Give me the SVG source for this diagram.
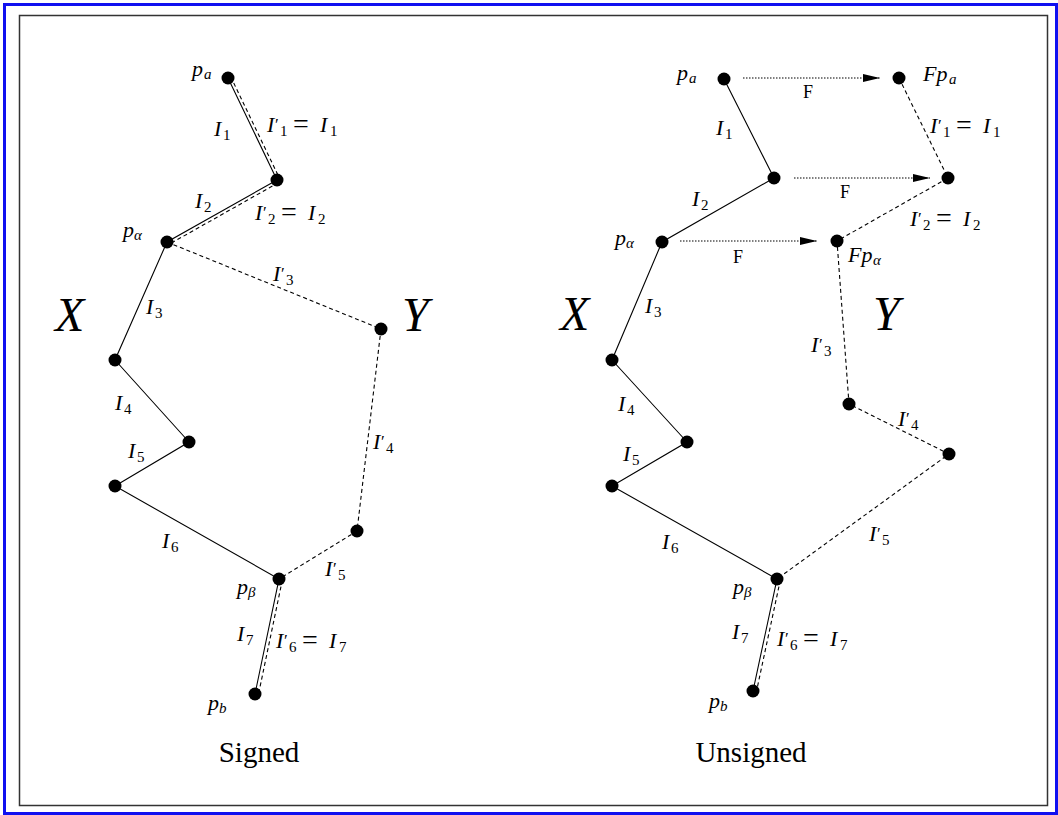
<svg xmlns="http://www.w3.org/2000/svg" width="1058" height="815" viewBox="0 0 1058 815">
<style>
.m{font-family:"Liberation Serif",serif;font-style:italic;font-size:22px;fill:#000}
.sb{font-size:15px;font-style:normal}
.sg{font-size:15px;font-style:italic}
.pr{font-size:17px;font-style:normal}
.eq{font-size:28px;font-style:normal}
.big{font-family:"Liberation Serif",serif;font-style:italic;font-size:48px;fill:#000}
.fl{font-family:"Liberation Serif",serif;font-size:18px;fill:#000}
.cap{font-family:"Liberation Serif",serif;font-size:29px;fill:#000;text-anchor:middle}
.dot{fill:#000}
.sol{fill:none;stroke:#000;stroke-width:1.1}
.dash{fill:none;stroke:#000;stroke-width:1.1;stroke-dasharray:4 3}
.dotl{fill:none;stroke:#000;stroke-width:1.1;stroke-dasharray:1.5 1.5}
</style>
<defs>
<marker id="ah" markerUnits="userSpaceOnUse" markerWidth="17" markerHeight="8" refX="17" refY="4" orient="auto"><path d="M0,0 L17,4 L0,8 z" fill="#000"/></marker>
</defs>
<rect x="4.5" y="4.5" width="1052" height="809" fill="#fff" stroke="#1010f0" stroke-width="3"/>
<rect x="19.5" y="15.5" width="1028" height="790" fill="none" stroke="#333" stroke-width="1.5"/>

<g id="connectors">
<polyline class="sol" points="228,78 277,180 167,242 115,360 189,442 115,486 279,579 255,694"/>
<line class="dash" x1="230.7" y1="76.7" x2="279.7" y2="178.7"/>
<line class="dash" x1="278.5" y1="182.6" x2="168.5" y2="244.6"/>
<polyline class="dash" points="167,242 381,329 357,531 279,579"/>
<line class="dash" x1="282.4" y1="579.7" x2="258.4" y2="694.7"/>
<polyline class="sol" points="724,79 774,178 662,242 612,360 687,442 612,486 777,579 753,691"/>
<polyline class="dash" points="899,78 948,178 837,241 849,404 949,454 777,579"/>
<line class="dash" x1="780.4" y1="579.7" x2="756.4" y2="691.7"/>
<line class="dotl" x1="743" y1="78" x2="880" y2="78" marker-end="url(#ah)"/>
<line class="dotl" x1="794" y1="178" x2="930" y2="178" marker-end="url(#ah)"/>
<line class="dotl" x1="680" y1="241" x2="817" y2="241" marker-end="url(#ah)"/>
</g>

<g id="L-pa"><circle class="dot" cx="228" cy="78" r="6.5"/><text class="m" x="192" y="76">p<tspan class="sg" x="204" y="79">a</tspan></text></g>
<g id="L-n2"><circle class="dot" cx="277" cy="180" r="6.5"/></g>
<g id="L-palpha"><circle class="dot" cx="167" cy="242" r="6.5"/><text class="m" x="123" y="237">p<tspan class="sg" x="134" y="240">α</tspan></text></g>
<g id="L-n3"><circle class="dot" cx="115" cy="360" r="6.5"/></g>
<g id="L-n4"><circle class="dot" cx="189" cy="442" r="6.5"/></g>
<g id="L-n5"><circle class="dot" cx="115" cy="486" r="6.5"/></g>
<g id="L-pbeta"><circle class="dot" cx="279" cy="579" r="6.5"/><text class="m" x="237" y="594">p<tspan class="sg" x="248" y="597">β</tspan></text></g>
<g id="L-pb"><circle class="dot" cx="255" cy="694" r="6.5"/><text class="m" x="208" y="710">p<tspan class="sg" x="219" y="713">b</tspan></text></g>
<g id="L-y1"><circle class="dot" cx="381" cy="329" r="6.5"/></g>
<g id="L-y2"><circle class="dot" cx="357" cy="531" r="6.5"/></g>

<g id="R-pa"><circle class="dot" cx="724" cy="79" r="6.5"/><text class="m" x="677" y="80">p<tspan class="sg" x="689" y="83">a</tspan></text></g>
<g id="R-n2"><circle class="dot" cx="774" cy="178" r="6.5"/></g>
<g id="R-palpha"><circle class="dot" cx="662" cy="242" r="6.5"/><text class="m" x="615" y="245">p<tspan class="sg" x="626" y="248">α</tspan></text></g>
<g id="R-n3"><circle class="dot" cx="612" cy="360" r="6.5"/></g>
<g id="R-n4"><circle class="dot" cx="687" cy="442" r="6.5"/></g>
<g id="R-n5"><circle class="dot" cx="612" cy="486" r="6.5"/></g>
<g id="R-pbeta"><circle class="dot" cx="777" cy="579" r="6.5"/><text class="m" x="733" y="594">p<tspan class="sg" x="744" y="597">β</tspan></text></g>
<g id="R-pb"><circle class="dot" cx="753" cy="691" r="6.5"/><text class="m" x="709" y="708">p<tspan class="sg" x="720" y="711">b</tspan></text></g>
<g id="R-Fpa"><circle class="dot" cx="899" cy="78" r="6.5"/><text class="m" x="923" y="81">Fp<tspan class="sg" x="949" y="84">a</tspan></text></g>
<g id="R-Fn2"><circle class="dot" cx="948" cy="178" r="6.5"/></g>
<g id="R-Fpalpha"><circle class="dot" cx="837" cy="241" r="6.5"/><text class="m" x="848" y="262">Fp<tspan class="sg" x="873" y="265">α</tspan></text></g>
<g id="R-y1"><circle class="dot" cx="849" cy="404" r="6.5"/></g>
<g id="R-y2"><circle class="dot" cx="949" cy="454" r="6.5"/></g>

<g id="labels">
<text class="big" x="55" y="331">X</text>
<text class="big" x="402" y="331">Y</text>
<text class="big" x="560" y="330">X</text>
<text class="big" x="873" y="330">Y</text>

<text class="m" x="214" y="136">I<tspan class="sb" x="223" y="140">1</tspan></text>
<text class="m" x="267" y="132">I<tspan class="pr" x="275" y="130">′</tspan><tspan class="sb" x="280" y="136">1</tspan><tspan class="eq" x="293" y="133">=</tspan><tspan x="320" y="132">I</tspan><tspan class="sb" x="330" y="136">1</tspan></text>
<text class="m" x="195" y="208">I<tspan class="sb" x="204" y="212">2</tspan></text>
<text class="m" x="255" y="220">I<tspan class="pr" x="263" y="218">′</tspan><tspan class="sb" x="268" y="224">2</tspan><tspan class="eq" x="281" y="221">=</tspan><tspan x="308" y="220">I</tspan><tspan class="sb" x="318" y="224">2</tspan></text>
<text class="m" x="273" y="281">I<tspan class="pr" x="281" y="279">′</tspan><tspan class="sb" x="286" y="285">3</tspan></text>
<text class="m" x="146" y="314">I<tspan class="sb" x="155" y="318">3</tspan></text>
<text class="m" x="115" y="410">I<tspan class="sb" x="124" y="414">4</tspan></text>
<text class="m" x="128" y="458">I<tspan class="sb" x="137" y="462">5</tspan></text>
<text class="m" x="373" y="449">I<tspan class="pr" x="381" y="447">′</tspan><tspan class="sb" x="386" y="453">4</tspan></text>
<text class="m" x="162" y="548">I<tspan class="sb" x="171" y="552">6</tspan></text>
<text class="m" x="325" y="576">I<tspan class="pr" x="333" y="574">′</tspan><tspan class="sb" x="338" y="580">5</tspan></text>
<text class="m" x="237" y="641">I<tspan class="sb" x="246" y="645">7</tspan></text>
<text class="m" x="276" y="648">I<tspan class="pr" x="284" y="646">′</tspan><tspan class="sb" x="289" y="652">6</tspan><tspan class="eq" x="302" y="649">=</tspan><tspan x="329" y="648">I</tspan><tspan class="sb" x="339" y="652">7</tspan></text>
<text class="cap" x="259" y="762">Signed</text>

<text class="fl" x="803" y="98">F</text>
<text class="fl" x="840" y="198">F</text>
<text class="fl" x="733" y="263">F</text>
<text class="m" x="716" y="135">I<tspan class="sb" x="725" y="139">1</tspan></text>
<text class="m" x="930" y="133">I<tspan class="pr" x="938" y="131">′</tspan><tspan class="sb" x="943" y="137">1</tspan><tspan class="eq" x="956" y="134">=</tspan><tspan x="983" y="133">I</tspan><tspan class="sb" x="993" y="137">1</tspan></text>
<text class="m" x="692" y="206">I<tspan class="sb" x="701" y="210">2</tspan></text>
<text class="m" x="910" y="226">I<tspan class="pr" x="918" y="224">′</tspan><tspan class="sb" x="923" y="230">2</tspan><tspan class="eq" x="936" y="227">=</tspan><tspan x="963" y="226">I</tspan><tspan class="sb" x="973" y="230">2</tspan></text>
<text class="m" x="645" y="313">I<tspan class="sb" x="654" y="317">3</tspan></text>
<text class="m" x="811" y="352">I<tspan class="pr" x="819" y="350">′</tspan><tspan class="sb" x="824" y="356">3</tspan></text>
<text class="m" x="618" y="411">I<tspan class="sb" x="627" y="415">4</tspan></text>
<text class="m" x="898" y="426">I<tspan class="pr" x="906" y="424">′</tspan><tspan class="sb" x="911" y="430">4</tspan></text>
<text class="m" x="623" y="461">I<tspan class="sb" x="632" y="465">5</tspan></text>
<text class="m" x="662" y="549">I<tspan class="sb" x="671" y="553">6</tspan></text>
<text class="m" x="869" y="541">I<tspan class="pr" x="877" y="539">′</tspan><tspan class="sb" x="882" y="545">5</tspan></text>
<text class="m" x="732" y="639">I<tspan class="sb" x="741" y="643">7</tspan></text>
<text class="m" x="777" y="646">I<tspan class="pr" x="785" y="644">′</tspan><tspan class="sb" x="790" y="650">6</tspan><tspan class="eq" x="803" y="647">=</tspan><tspan x="830" y="646">I</tspan><tspan class="sb" x="840" y="650">7</tspan></text>
<text class="cap" x="751" y="762">Unsigned</text>
</g>
</svg>
